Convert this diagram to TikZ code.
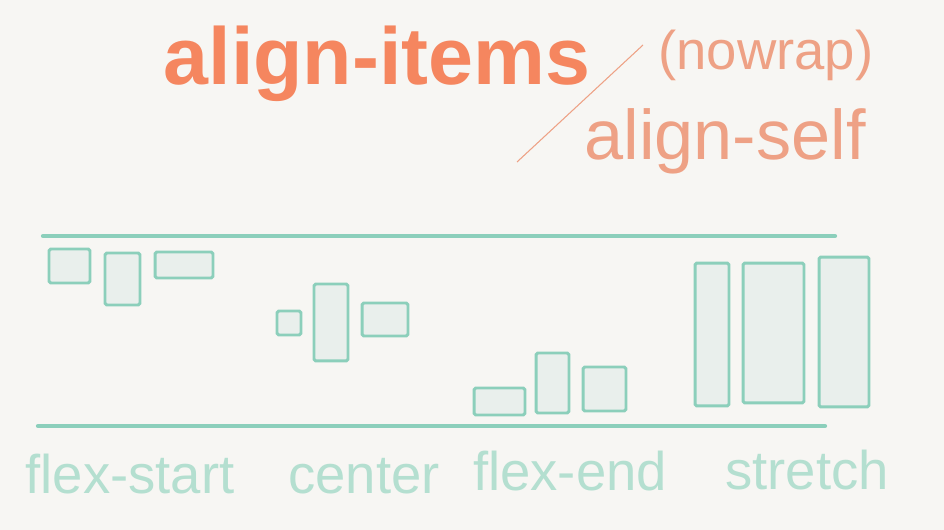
\documentclass[tikz,border=0pt]{standalone}
\usepackage{fontspec}
\setmainfont{Liberation Sans}
\usepackage{xcolor}
\usepackage{tikz}
\usetikzlibrary{positioning}
\definecolor{paper-bg}{HTML}{F7F6F3}
\definecolor{flex-teal}{HTML}{8CCFBB}
\definecolor{flex-fill}{HTML}{E9EFEC}
\definecolor{flex-label}{HTML}{B4DFD0}
\definecolor{title-orange}{HTML}{F5865F}
\definecolor{note-orange}{HTML}{EEA185}

\begin{document}
\begin{tikzpicture}[
    x=0.02cm, y=-0.02cm,
    item/.style={draw=flex-teal, fill=flex-fill, line width=1.7pt, rounded corners=1pt,
                 inner sep=0pt},
    axis/.style={flex-teal, line width=2.4pt, line cap=round},
    lbl/.style={anchor=base, text=flex-label, font=\fontsize{31}{31}\selectfont},
    note/.style={anchor=base, text=note-orange, font=\fontsize{31}{31}\selectfont},
]
    % Paper
    \fill[paper-bg] (0,0) rectangle (944,530);
    \useasboundingbox (0,0) rectangle (944,530);

    % Heading
    \node[anchor=base, text=title-orange, font=\fontsize{46}{46}\selectfont\bfseries]
        (title) at (377,85) {align-items};
    \node[note] (nowrap) at (766,70) {(nowrap)};
    \node[note, font=\fontsize{40}{40}\selectfont] (self) at (725,160) {align-self};
    \coordinate (slashlo) at (517,162);
    \coordinate (slashhi) at (643,45);
    \draw[note-orange, line width=0.6pt] (slashlo) -- (slashhi);

    % Cross axis
    \coordinate (topl) at (43,236);
    \coordinate (topr) at (835,236);
    \coordinate (botl) at (38,426);
    \coordinate (botr) at (825,426);
    \draw[axis] (topl) -- (topr);
    \draw[axis] (botl) -- (botr);

    % flex-start
    \node[item, minimum width=0.82cm, minimum height=0.68cm] (fs1) at (69.5,266) {};
    \node[item, minimum width=0.70cm, minimum height=1.04cm] (fs2) at (122.5,279) {};
    \node[item, minimum width=1.16cm, minimum height=0.52cm] (fs3) at (184,265) {};

    % center
    \node[item, minimum width=0.48cm, minimum height=0.48cm] (ce1) at (289,323) {};
    \node[item, minimum width=0.68cm, minimum height=1.54cm] (ce2) at (331,322.5) {};
    \node[item, minimum width=0.92cm, minimum height=0.66cm] (ce3) at (385,319.5) {};

    % flex-end
    \node[item, minimum width=1.02cm, minimum height=0.54cm] (fe1) at (499.5,401.5) {};
    \node[item, minimum width=0.66cm, minimum height=1.20cm] (fe2) at (552.5,383) {};
    \node[item, minimum width=0.86cm, minimum height=0.88cm] (fe3) at (604.5,389) {};

    % stretch
    \node[item, minimum width=0.68cm, minimum height=2.86cm] (st1) at (712,334.5) {};
    \node[item, minimum width=1.22cm, minimum height=2.80cm] (st2) at (773.5,333) {};
    \node[item, minimum width=1.00cm, minimum height=3.00cm] (st3) at (844,332) {};

    % Labels
    \node[lbl] (lstart)   at (130,493) {flex-start};
    \node[lbl] (lcenter)  at (364,493) {center};
    \node[lbl] (lend)     at (570,490) {flex-end};
    \node[lbl] (lstretch) at (807,489) {stretch};
\end{tikzpicture}
\end{document}
